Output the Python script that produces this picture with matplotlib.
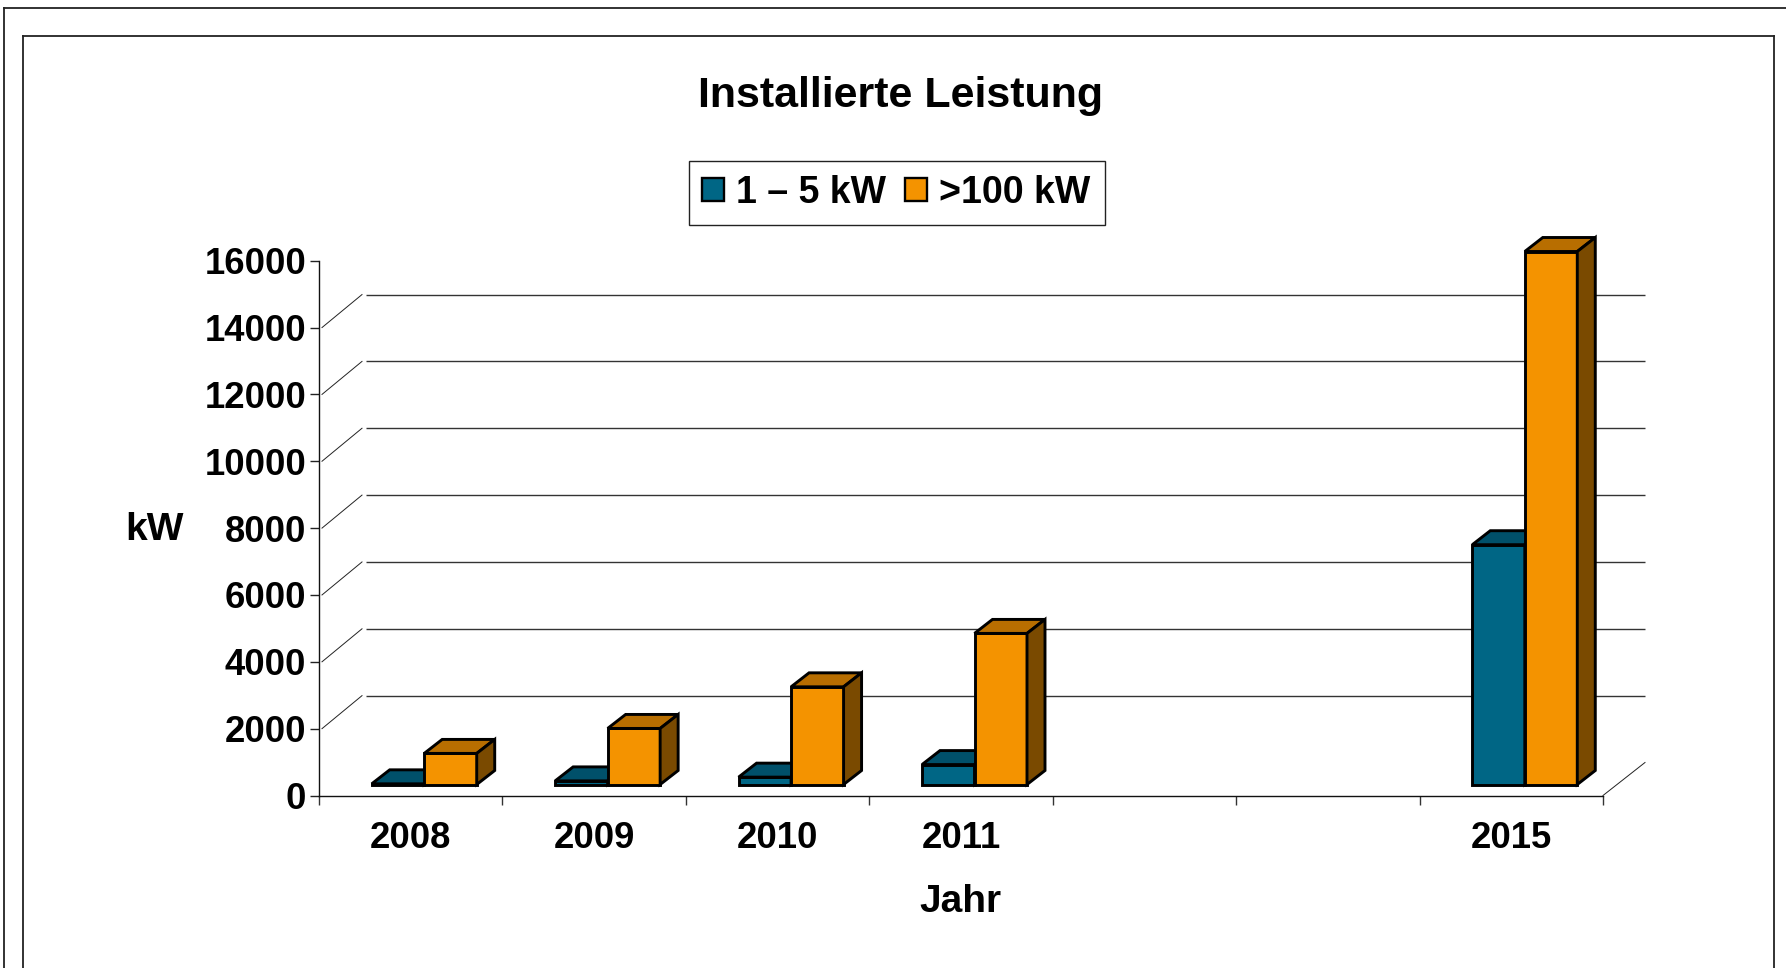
import matplotlib
matplotlib.use("Agg")
import matplotlib.pyplot as plt
from matplotlib.lines import Line2D
from matplotlib.patches import Patch

plt.rcParams['font.family'] = ['Liberation Sans', 'DejaVu Sans']
plt.rcParams['font.weight'] = 'bold'

categories = ['2008', '2009', '2010', '2011', '', '', '2015']
positions = [0, 1, 2, 3, 6]
year_labels = ['2008', '2009', '2010', '2011', '2015']
small_kw = [20, 108, 220, 596, 7174]
large_kw = [930, 1677, 2922, 4520, 15946]
y_ticks = [0, 2000, 4000, 6000, 8000, 10000, 12000, 14000, 16000]
grid_values = [2000, 4000, 6000, 8000, 10000, 12000, 14000]
title = 'Installierte Leistung'
series_names = ['1 – 5 kW', '>100 kW']

W, H = 1786, 968
L, R, T, B = 319, 1603, 260.7, 795.5

fig = plt.figure(figsize=(W / 100, H / 100), dpi=100, facecolor='white')
ax = fig.add_axes([L / W, 1 - B / H, (R - L) / W, (B - T) / H])
ax.set_xlim(0, len(categories))
ax.set_ylim(0, 16000)
ax.patch.set_visible(False)

PX = len(categories) / (R - L)
PY = 16000 / (B - T)

for s in ['top', 'right']:
    ax.spines[s].set_visible(False)
for s in ['left', 'bottom']:
    ax.spines[s].set_linewidth(1.0)
    ax.spines[s].set_color('#111111')

ax.set_yticks(y_ticks)
ax.set_yticklabels([str(v) for v in y_ticks], fontsize=26.3, fontweight='bold')
ax.tick_params(axis='y', length=6.5, width=1.0, pad=2.8, color='#222222')
ax.set_xticks([i + 0.5 for i in range(len(categories))])
ax.set_xticklabels(categories, fontsize=26.3, fontweight='bold')
ax.set_xticks(range(len(categories) + 1), minor=True)
ax.tick_params(axis='x', which='major', length=0, pad=18)
ax.tick_params(axis='x', which='minor', length=6.5, width=1.0, color='#333333')

# back wall: gridlines and receding lines
wall_x, wall_y = 42 * PX, 33 * PY
start_x = 47 * PX
ax.hlines([v + wall_y for v in grid_values], start_x, len(categories) + wall_x,
          colors='#333333', linewidth=1.0, zorder=1, clip_on=False)
for v in grid_values:
    ax.plot([3 * PX, 43 * PX], [v, v + wall_y], color='#222222', lw=0.7,
            zorder=1, clip_on=False)
ax.plot([len(categories), len(categories) + wall_x], [0, wall_y], color='#222222',
        lw=0.7, zorder=1, clip_on=False)

# 3-D columns
bar_w = 52.5 * PX
shift_x, shift_y = 13.5 * PX, 11 * PY
depth_x, depth_y = 18 * PX, 14 * PY
edge = dict(edgecolor='black', linewidth=2.1, joinstyle='miter', clip_on=False)


def column(x0, value, front, top, side, z):
    x1 = x0 + bar_w
    base = shift_y
    ax.bar(x0, value, width=bar_w, bottom=base, align='edge', color=front, zorder=z, **edge)
    t = base + value
    ax.fill([x0, x0 + depth_x, x1 + depth_x, x1], [t, t + depth_y, t + depth_y, t],
            facecolor=top, zorder=z, **edge)
    ax.fill([x1, x1 + depth_x, x1 + depth_x, x1],
            [base, base + depth_y, t + depth_y, t],
            facecolor=side, zorder=z, **edge)


for i, p in enumerate(positions):
    mid = p + 0.5 + shift_x
    column(mid - bar_w, small_kw[i], '#006685', '#00506A', '#00405A', 3 + 2 * i)
    column(mid, large_kw[i], '#F49300', '#B86E00', '#7A4A00', 4 + 2 * i)

fig.text(901 / W, 1 - 96.5 / H, title, fontsize=31, fontweight='bold', ha='center', va='center')
fig.text(154 / W, 1 - 530.5 / H, 'kW', fontsize=28, fontweight='bold', ha='center', va='center')
fig.text(960 / W, 1 - 902.5 / H, 'Jahr', fontsize=28, fontweight='bold', ha='center', va='center')

handles = [Patch(facecolor='#006685', edgecolor='black', linewidth=1.7),
           Patch(facecolor='#F49300', edgecolor='black', linewidth=1.7)]
leg = fig.legend(handles, series_names, ncol=2, loc='center',
                 bbox_to_anchor=(896.5 / W, 1 - 193 / H), fontsize=27,
                 frameon=True, fancybox=False, framealpha=1, edgecolor='#222222',
                 handlelength=0.58, handleheight=0.58, handletextpad=0.33,
                 columnspacing=0.5, borderpad=0.37, borderaxespad=0)
leg.get_frame().set_linewidth(1.0)
for t in leg.get_texts():
    t.set_fontweight('bold')

# chart and slide frames
for xs, ys in [((3.5, 3.5), (968, 7.5)), ((3.5, 1786), (7.5, 7.5)),
               ((22.5, 22.5), (968, 35.5)), ((22.5, 1774), (35.5, 35.5)),
               ((1774, 1774), (35.5, 968))]:
    fig.add_artist(Line2D([x / W for x in xs], [1 - y / H for y in ys],
                          color='#222222', lw=1.3, transform=fig.transFigure))

fig.savefig('out.png', dpi=100, facecolor='white')
